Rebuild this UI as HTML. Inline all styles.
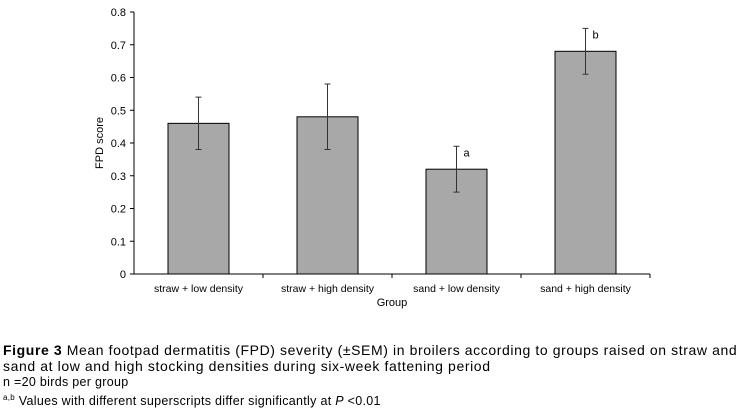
<!DOCTYPE html>
<html><head><meta charset="utf-8"><style>
body{margin:0;background:#fff;width:749px;height:414px;overflow:hidden;font-family:"Liberation Sans",Arial,sans-serif}
svg text{font-family:"Liberation Sans",Arial,sans-serif}
.cap{position:absolute;left:3px;font-size:14px;color:#000;line-height:16px;letter-spacing:0.6px}
</style></head><body>
<svg id="chart" width="749" height="320" style="position:absolute;left:0;top:0"></svg>
<div class="cap" style="top:342px;width:742px"><b>Figure 3</b> Mean footpad dermatitis (FPD) severity (±SEM) in broilers according to groups raised on straw and sand at low and high stocking densities during six-week fattening period</div>
<div class="cap" style="top:374px;font-size:12.5px;letter-spacing:0.3px">n =20 birds per group</div>
<div class="cap" style="top:390px;font-size:12.5px;letter-spacing:0.3px"><sup style="font-size:8px">a,b</sup> Values with different superscripts differ significantly at <i>P</i> &lt;0.01</div>
<script>
const categories=["straw + low density","straw + high density","sand + low density","sand + high density"];
const values=[0.46,0.48,0.32,0.68];
const errors=[0.08,0.10,0.07,0.07];
const letters=["","","a","b"];
const yTicks=[0,0.1,0.2,0.3,0.4,0.5,0.6,0.7,0.8];
const NS="http://www.w3.org/2000/svg";
const svg=document.getElementById('chart');
const x0=134,catW=129,y0=274,yTop=12,yMax=0.8,barW=61;
const y=v=>y0-(v/yMax)*(y0-yTop);
const xc=i=>x0+catW*(i+0.5);
function mk(t,a){const e=document.createElementNS(NS,t);for(const k in a)e.setAttribute(k,a[k]);svg.appendChild(e);return e;}
yTicks.forEach(t=>{
 const l=mk('line',{x1:x0-4,x2:x0,y1:y(t),y2:y(t),stroke:'#000'});
 
 
 const tx=mk('text',{x:x0-8,y:y(t)+4,'text-anchor':'end','font-size':11});
 tx.textContent=String(t);
 
 
});
categories.forEach((c,i)=>{
 const bx=xc(i)-barW/2;
 const r=mk('rect',{x:bx,y:y(values[i]),width:barW,height:y0-y(values[i]),fill:'#a8a8a8',stroke:'#000','stroke-width':1});
 
 
 const hi=y(values[i]+errors[i]),lo=y(values[i]-errors[i]);
 const eb=mk('path',{d:`M${xc(i)},${hi}V${lo}M${xc(i)-3},${hi}h6M${xc(i)-3},${lo}h6`,stroke:'#333','stroke-width':1,fill:'none'});
 
 
 if(letters[i]){const lt=mk('text',{x:xc(i)+10,y:hi+10,'font-size':11,'text-anchor':'middle'});lt.textContent=letters[i];
 
 }
 const tl=mk('text',{x:xc(i),y:292,'text-anchor':'middle','font-size':10.5});tl.textContent=c;
 
 
 const tk=mk('line',{x1:x0+catW*(i+1),x2:x0+catW*(i+1),y1:y0,y2:y0+4,stroke:'#000'});
 
 
});
const ax=mk('path',{d:`M${x0},${yTop}V${y0}H${x0+catW*4}`,stroke:'#000',fill:'none'});


const xt=mk('text',{x:x0+catW*2,y:306,'text-anchor':'middle','font-size':11});xt.textContent='Group';


const yt=mk('text',{x:0,y:0,'text-anchor':'middle','font-size':11,transform:`translate(103,${(y0+yTop)/2}) rotate(-90)`});yt.textContent='FPD score';


</script>
</body></html>
